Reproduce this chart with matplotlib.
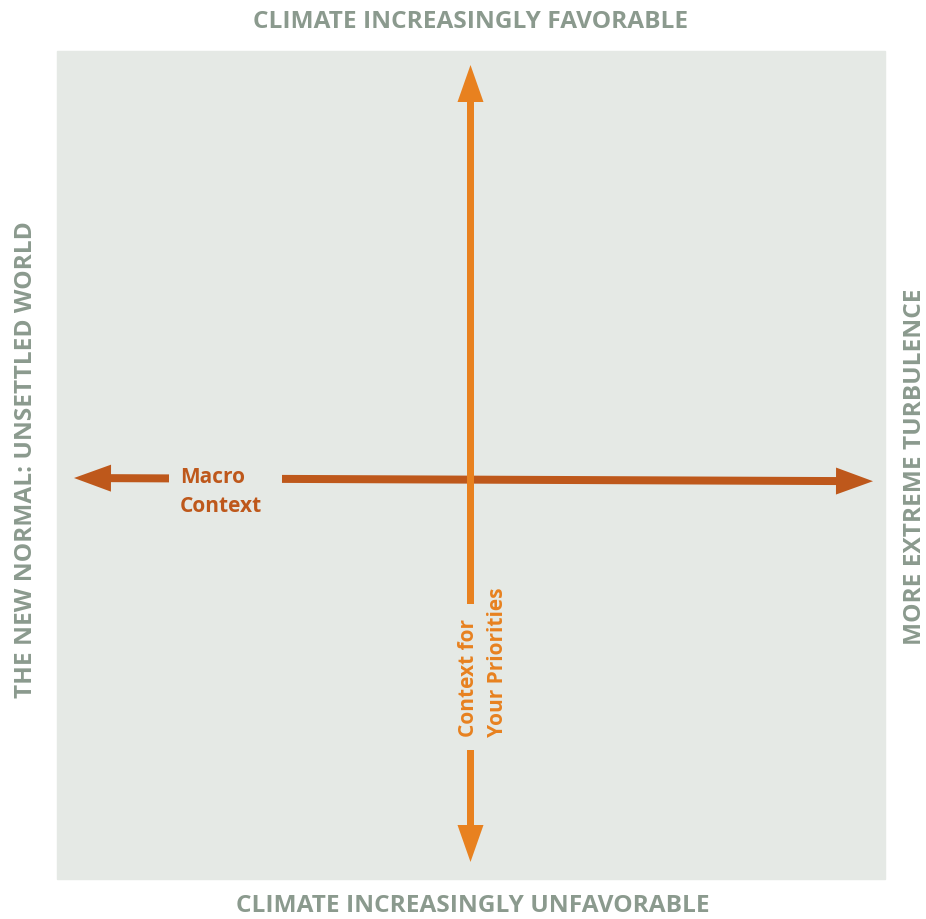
import matplotlib.pyplot as plt
from matplotlib.patches import Rectangle

# %% Text content
axis_labels = [
    "CLIMATE INCREASINGLY FAVORABLE",
    "CLIMATE INCREASINGLY UNFAVORABLE",
    "THE NEW NORMAL: UNSETTLED WORLD",
    "MORE EXTREME TURBULENCE",
]
macro_label = "Macro\nContext"
priority_label = "Context for\nYour Priorities"

# %% Colours
panel_col = "#E5E9E5"
dark_orange = "#BE581B"
light_orange = "#E8811F"
grey_text = "#8B9A8E"
font = "Open Sans"

# %% Figure in pixel coordinates
fig = plt.figure(figsize=(9.26, 9.20), dpi=100)
ax = fig.add_axes([0, 0, 1, 1])
ax.set_xlim(0, 926)
ax.set_ylim(920, 0)
ax.axis("off")

ax.add_patch(Rectangle((57, 52), 828, 828, color=panel_col, zorder=0))

# Horizontal (macro) arrow, split round its label
arrow_h = dict(width=8, head_width=27, head_length=37, length_includes_head=True,
               color=dark_orange, lw=0, zorder=2)
ax.arrow(169, 479.4, 74 - 169, 479 - 479.4, **arrow_h)
ax.arrow(282, 479.9, 873 - 282, 482.2 - 479.9, **arrow_h)

# Vertical (priorities) arrow, split round its label
arrow_v = dict(width=7, head_width=26, head_length=37, length_includes_head=True,
               color=light_orange, lw=0, zorder=3)
ax.arrow(470.5, 605, 0, 66 - 605, **arrow_v)
ax.arrow(470.5, 751, 0, 863 - 751, **arrow_v)

# Inner labels
ax.text(180, 492, macro_label, color=dark_orange, fontsize=15, fontweight="bold",
        family=font, ha="left", va="center", linespacing=1.45)
ax.text(483, 737, priority_label, color=light_orange, fontsize=15, fontweight="bold",
        family=font, rotation=90, ha="center", va="bottom", multialignment="left",
        linespacing=1.45)

# Outer axis labels
lab = dict(color=grey_text, fontsize=17.6, fontweight="bold", family=font)
ax.text(471, 22, axis_labels[0], ha="center", va="center", **lab)
ax.text(473, 906, axis_labels[1], ha="center", va="center", **lab)
ax.text(26, 460, axis_labels[2], ha="center", va="center", rotation=90, **lab)
ax.text(915, 467, axis_labels[3], ha="center", va="center", rotation=90, **lab)

fig.savefig("out.png", dpi=100)
